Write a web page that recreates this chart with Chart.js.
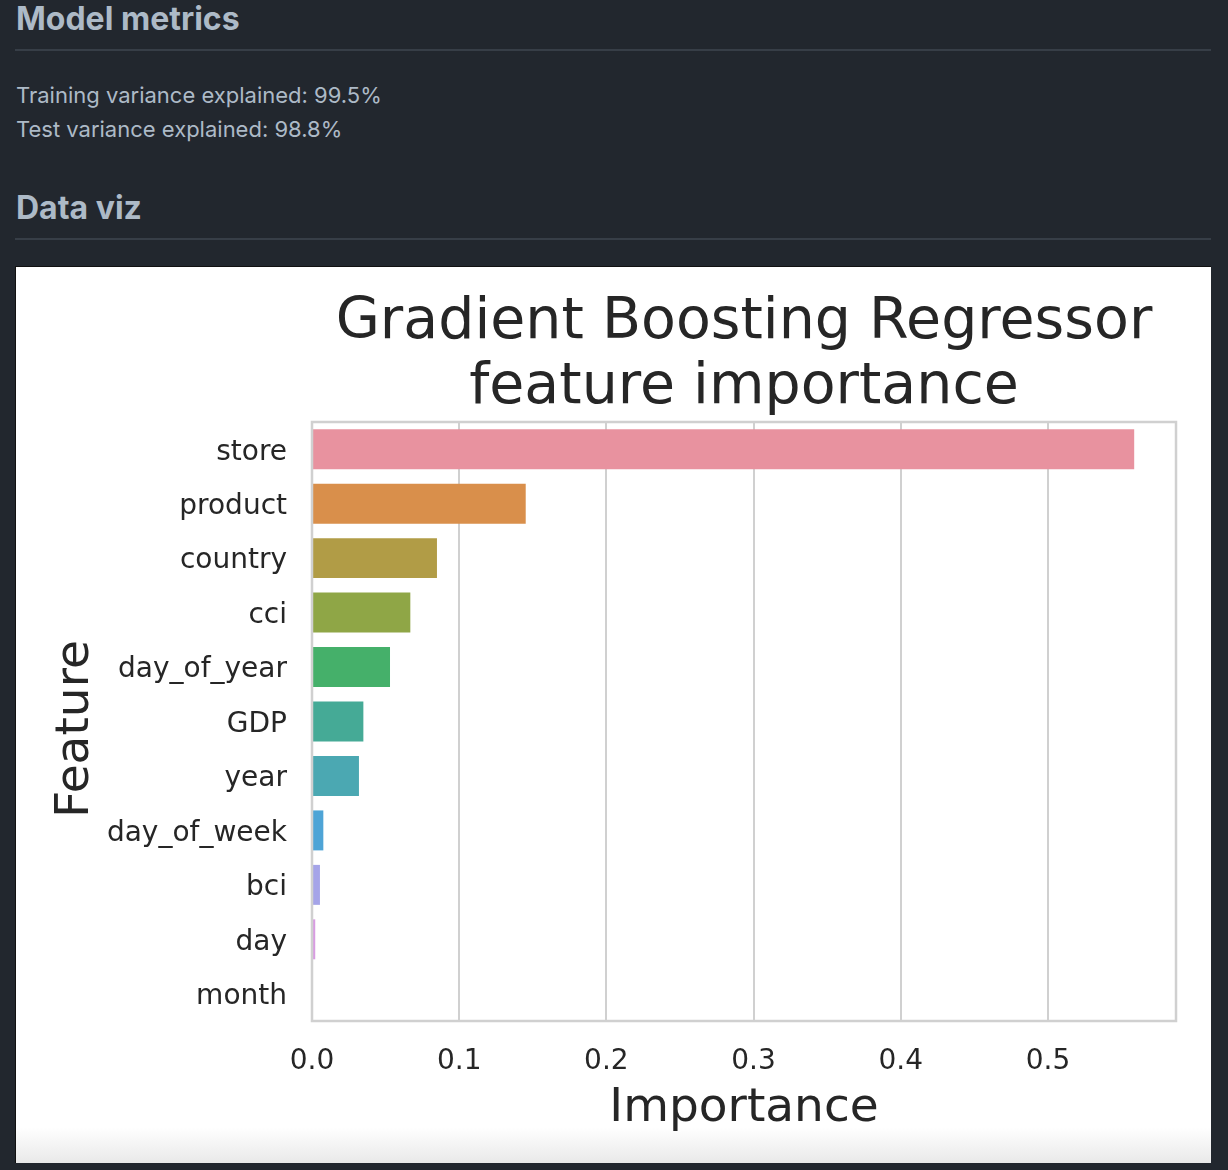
<!DOCTYPE html>
<html>
<head>
<meta charset="utf-8">
<script src="https://cdn.jsdelivr.net/npm/chart.js@4.4.1/dist/chart.umd.min.js"></script>
<style>
    body {
        margin: 0;
        background: #22272e;
        font-family: Inter, "Liberation Sans", sans-serif;
        color: #adbac7;
        width: 1228px;
        height: 1170px;
        overflow: hidden;
        position: relative;
    }
    .heading {
        position: absolute;
        left: 16px;
        font-weight: 700;
        font-size: 32px;
        line-height: 40px;
        margin: 0;
    }
    .rule {
        position: absolute;
        left: 15px;
        width: 1196px;
        height: 2px;
        background: #373e47;
    }
    .metric {
        position: absolute;
        left: 16px;
        font-size: 22px;
        line-height: 34px;
    }
    .viz-box {
        position: absolute;
        left: 15px;
        top: 266px;
        width: 1196px;
        height: 897px;
        background: linear-gradient(to bottom, #ffffff 0%, #ffffff 96%, #e9e9e9 100%);
        border-top: 1px solid #111;
        border-left: 1px solid #111;
        box-sizing: border-box;
    }
    .viz-box canvas {
        position: absolute;
        left: -1px;
        top: -1px;
    }
</style>
</head>
<body>
<h2 class="heading" style="top:-1px">Model metrics</h2>
<div class="rule" style="top:49px"></div>
<div class="metric" style="top:78px">Training variance explained: 99.5%</div>
<div class="metric" style="top:112px">Test variance explained: 98.8%</div>
<h2 class="heading" style="top:188px">Data viz</h2>
<div class="rule" style="top:238px"></div>
<div class="viz-box">
    <canvas id="importanceChart" width="1196" height="897"></canvas>
</div>

<script>
// Feature importances
const features = ['store', 'product', 'country', 'cci', 'day_of_year', 'GDP',
                  'year', 'day_of_week', 'bci', 'day', 'month'];
const importance = [0.5586, 0.1452, 0.0849, 0.0668, 0.0530, 0.0349,
                    0.0319, 0.0077, 0.0054, 0.0022, 0.0002];
const barColors = ['#e8929f', '#d98f4b', '#b19c46', '#8fa646', '#45b06a', '#45aa96',
                   '#4ba8b2', '#4ea4d6', '#a5a4e8', '#d89ce2', '#e692c4'];
const xTicks = [0.0, 0.1, 0.2, 0.3, 0.4, 0.5];

const textColor = '#262626';
const gridColor = '#d0d0d0';
const chartFont = 'DejaVu Sans';

/**
 * Draw the full grey frame round the plot area (matplotlib style spines)
 */
const framePlugin = {
    id: 'frame',
    afterDatasetsDraw(chart) {
        const area = chart.chartArea;
        const ctx = chart.ctx;
        ctx.save();
        ctx.strokeStyle = gridColor;
        ctx.lineWidth = 2.5;
        ctx.strokeRect(area.left, area.top, area.right - area.left, area.bottom - area.top);
        ctx.restore();
    }
};

document.addEventListener('DOMContentLoaded', function() {
    const chartEl = document.getElementById('importanceChart');

    new Chart(chartEl, {
        type: 'bar',
        data: {
            labels: features,
            datasets: [{
                label: 'Importance',
                data: importance,
                backgroundColor: barColors,
                borderWidth: 0,
                categoryPercentage: 1.0,
                barPercentage: 0.734
            }]
        },
        options: {
            indexAxis: 'y',
            responsive: false,
            animation: false,
            layout: {
                padding: { left: 0, right: 35, top: 0, bottom: 0 }
            },
            plugins: {
                legend: { display: false },
                tooltip: { enabled: false },
                title: {
                    display: true,
                    fullSize: false,
                    text: ['Gradient Boosting Regressor', 'feature importance'],
                    color: textColor,
                    font: { family: chartFont, size: 57, weight: 'normal', lineHeight: 65 / 57 },
                    padding: { top: 24.5, bottom: 1.5 }
                }
            },
            scales: {
                x: {
                    type: 'linear',
                    min: 0,
                    max: 0.587,
                    afterFit: scale => { scale.height = 142; },
                    afterBuildTicks: scale => {
                        scale.ticks = xTicks.map(v => ({ value: v }));
                    },
                    ticks: {
                        color: textColor,
                        font: { family: chartFont, size: 28 },
                        padding: 24,
                        callback: value => Number(value).toFixed(1)
                    },
                    grid: {
                        color: gridColor,
                        lineWidth: 2,
                        drawTicks: false
                    },
                    border: { display: false },
                    title: {
                        display: true,
                        text: 'Importance',
                        color: textColor,
                        font: { family: chartFont, size: 47 },
                        padding: { top: 0, bottom: 26.5 }
                    }
                },
                y: {
                    afterFit: scale => { scale.width = 297; },
                    ticks: {
                        color: textColor,
                        font: { family: chartFont, size: 28 },
                        padding: 25,
                        labelOffset: 3
                    },
                    grid: { display: false, drawTicks: false },
                    border: { display: false },
                    title: {
                        display: true,
                        text: 'Feature ',
                        color: textColor,
                        font: { family: chartFont, size: 47 },
                        padding: { top: 32.5, bottom: 0 }
                    }
                }
            }
        },
        plugins: [framePlugin]
    });
});
</script>
</body>
</html>
